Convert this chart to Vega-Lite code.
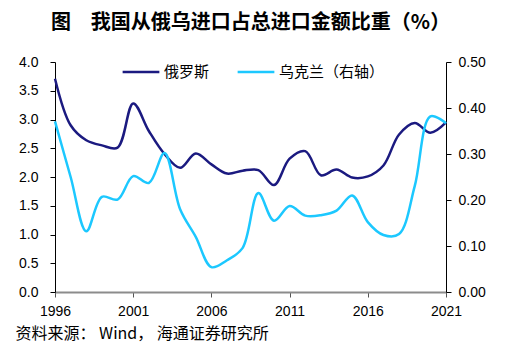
{
  "$schema": "https://vega.github.io/schema/vega-lite/v6.json",
  "width": 391,
  "height": 230,
  "autosize": {"type": "none"},
  "padding": {"left": 55, "top": 62, "right": 74, "bottom": 59},
  "background": "white",
  "title": {
    "text": "图　我国从俄乌进口占总进口金额比重（%）",
    "font": "Noto Sans CJK SC",
    "fontSize": 20,
    "fontWeight": "bold",
    "color": "black",
    "anchor": "middle",
    "offset": 19
  },
  "datasets": {
    "shares": [
      {"year": 1996, "country": "俄罗斯", "share": 3.71},
      {"year": 1997, "country": "俄罗斯", "share": 2.90},
      {"year": 1998, "country": "俄罗斯", "share": 2.64},
      {"year": 1999, "country": "俄罗斯", "share": 2.55},
      {"year": 2000, "country": "俄罗斯", "share": 2.51},
      {"year": 2001, "country": "俄罗斯", "share": 3.28},
      {"year": 2002, "country": "俄罗斯", "share": 2.80},
      {"year": 2003, "country": "俄罗斯", "share": 2.40},
      {"year": 2004, "country": "俄罗斯", "share": 2.16},
      {"year": 2005, "country": "俄罗斯", "share": 2.41},
      {"year": 2006, "country": "俄罗斯", "share": 2.22},
      {"year": 2007, "country": "俄罗斯", "share": 2.06},
      {"year": 2008, "country": "俄罗斯", "share": 2.11},
      {"year": 2009, "country": "俄罗斯", "share": 2.12},
      {"year": 2010, "country": "俄罗斯", "share": 1.86},
      {"year": 2011, "country": "俄罗斯", "share": 2.32},
      {"year": 2012, "country": "俄罗斯", "share": 2.45},
      {"year": 2013, "country": "俄罗斯", "share": 2.03},
      {"year": 2014, "country": "俄罗斯", "share": 2.13},
      {"year": 2015, "country": "俄罗斯", "share": 1.99},
      {"year": 2016, "country": "俄罗斯", "share": 2.01},
      {"year": 2017, "country": "俄罗斯", "share": 2.20},
      {"year": 2018, "country": "俄罗斯", "share": 2.74},
      {"year": 2019, "country": "俄罗斯", "share": 2.94},
      {"year": 2020, "country": "俄罗斯", "share": 2.77},
      {"year": 2021, "country": "俄罗斯", "share": 2.95},
      {"year": 1996, "country": "乌克兰（右轴）", "share": 0.371},
      {"year": 1997, "country": "乌克兰（右轴）", "share": 0.250},
      {"year": 1998, "country": "乌克兰（右轴）", "share": 0.132},
      {"year": 1999, "country": "乌克兰（右轴）", "share": 0.207},
      {"year": 2000, "country": "乌克兰（右轴）", "share": 0.201},
      {"year": 2001, "country": "乌克兰（右轴）", "share": 0.252},
      {"year": 2002, "country": "乌克兰（右轴）", "share": 0.237},
      {"year": 2003, "country": "乌克兰（右轴）", "share": 0.302},
      {"year": 2004, "country": "乌克兰（右轴）", "share": 0.180},
      {"year": 2005, "country": "乌克兰（右轴）", "share": 0.120},
      {"year": 2006, "country": "乌克兰（右轴）", "share": 0.054},
      {"year": 2007, "country": "乌克兰（右轴）", "share": 0.069},
      {"year": 2008, "country": "乌克兰（右轴）", "share": 0.096},
      {"year": 2009, "country": "乌克兰（右轴）", "share": 0.215},
      {"year": 2010, "country": "乌克兰（右轴）", "share": 0.155},
      {"year": 2011, "country": "乌克兰（右轴）", "share": 0.187},
      {"year": 2012, "country": "乌克兰（右轴）", "share": 0.166},
      {"year": 2013, "country": "乌克兰（右轴）", "share": 0.167},
      {"year": 2014, "country": "乌克兰（右轴）", "share": 0.177},
      {"year": 2015, "country": "乌克兰（右轴）", "share": 0.210},
      {"year": 2016, "country": "乌克兰（右轴）", "share": 0.152},
      {"year": 2017, "country": "乌克兰（右轴）", "share": 0.124},
      {"year": 2018, "country": "乌克兰（右轴）", "share": 0.126},
      {"year": 2019, "country": "乌克兰（右轴）", "share": 0.230},
      {"year": 2020, "country": "乌克兰（右轴）", "share": 0.382},
      {"year": 2021, "country": "乌克兰（右轴）", "share": 0.367}
    ]
  },
  "data": {"name": "shares"},
  "encoding": {
    "x": {
      "field": "year",
      "type": "quantitative",
      "scale": {"domain": [1996, 2021], "nice": false, "zero": false},
      "axis": {
        "values": [1996, 2001, 2006, 2011, 2016, 2021],
        "format": "d",
        "labelFlush": false,
        "labelOverlap": false,
        "title": "资料来源： Wind， 海通证券研究所",
        "titleFont": "Noto Sans CJK SC",
        "titleFontSize": 16,
        "titleFontWeight": "normal",
        "titleColor": "black",
        "titleAnchor": "start",
        "titleAlign": "left",
        "titleBaseline": "alphabetic",
        "titleX": -40,
        "titleY": 46,
        "domainColor": "#8c8c8c",
        "domainWidth": 2,
        "tickColor": "#555555",
        "tickSize": 5,
        "labelPadding": 7
      }
    },
    "color": {
      "field": "country",
      "type": "nominal",
      "scale": {"domain": ["俄罗斯", "乌克兰（右轴）"], "range": ["#1b1a80", "#1cc8ff"]},
      "legend": {
        "orient": "none",
        "direction": "horizontal",
        "legendX": 66,
        "legendY": -10,
        "title": null,
        "symbolType": "stroke",
        "symbolSize": 1350,
        "symbolStrokeWidth": 2.5,
        "labelFont": "Noto Sans CJK SC",
        "labelFontSize": 15,
        "labelColor": "black",
        "labelOffset": 3,
        "columnPadding": 22,
        "padding": 0
      }
    }
  },
  "layer": [
    {
      "transform": [{"filter": "datum.country === '俄罗斯'"}],
      "mark": {"type": "line", "interpolate": "catmull-rom", "strokeWidth": 2.5},
      "encoding": {
        "y": {
          "field": "share",
          "type": "quantitative",
          "scale": {"domain": [0, 4], "nice": false},
          "axis": {
            "orient": "left",
            "values": [0, 0.5, 1, 1.5, 2, 2.5, 3, 3.5, 4],
            "format": ".1f",
            "title": null,
            "labelPadding": 12
          }
        }
      }
    },
    {
      "transform": [{"filter": "datum.country === '乌克兰（右轴）'"}],
      "mark": {"type": "line", "interpolate": "catmull-rom", "strokeWidth": 2.5},
      "encoding": {
        "y": {
          "field": "share",
          "type": "quantitative",
          "scale": {"domain": [0, 0.5], "nice": false},
          "axis": {
            "orient": "right",
            "values": [0, 0.1, 0.2, 0.3, 0.4, 0.5],
            "format": ".2f",
            "title": null,
            "labelPadding": 7
          }
        }
      }
    }
  ],
  "resolve": {"scale": {"y": "independent"}},
  "config": {
    "view": {"stroke": null},
    "axis": {
      "grid": false,
      "labelFont": "Liberation Sans",
      "labelFontSize": 14,
      "labelColor": "black",
      "domainColor": "black",
      "tickColor": "black",
      "tickSize": 5
    }
  }
}
